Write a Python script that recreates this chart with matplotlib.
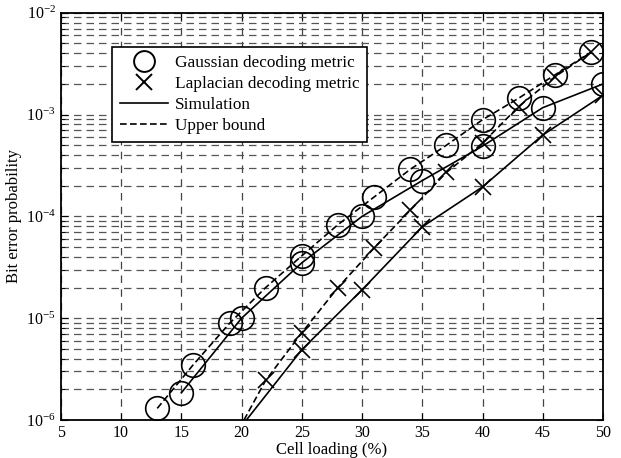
import numpy as np
import matplotlib.pyplot as plt
from matplotlib.lines import Line2D

plt.rcParams['font.family'] = 'Liberation Serif'
plt.rcParams['mathtext.fontset'] = 'custom'
plt.rcParams['mathtext.rm'] = 'Liberation Serif'

# Gaussian decoding metric
gauss_ub_x = [13, 16, 19, 22, 25, 28, 31, 34, 37, 40, 43, 46, 49]
gauss_ub = [1.3e-6, 3.5e-6, 8.9e-6, 2.0e-5, 4.1e-5, 8.3e-5, 1.55e-4,
            2.9e-4, 5.0e-4, 8.9e-4, 1.45e-3, 2.45e-3, 4.1e-3]
gauss_sim_x = [15, 20, 25, 30, 35, 40, 45, 50]
gauss_sim = [1.85e-6, 1.0e-5, 3.5e-5, 1.0e-4, 2.25e-4, 4.9e-4, 1.17e-3, 2.0e-3]

# Laplacian decoding metric
lap_ub_x = [19, 22, 25, 28, 31, 34, 37, 40, 43, 46, 49]
lap_ub = [5.5e-7, 2.45e-6, 7.2e-6, 2.0e-5, 4.9e-5, 1.15e-4, 2.7e-4,
          5.25e-4, 1.2e-3, 2.35e-3, 4.1e-3]
lap_sim_x = [20, 25, 30, 35, 40, 45, 50]
lap_sim = [8.7e-7, 4.9e-6, 1.9e-5, 7.9e-5, 1.95e-4, 6.3e-4, 1.55e-3]

fig = plt.figure(figsize=(6.21, 4.58), dpi=100)
ax = fig.add_axes([0.098, 0.083, 0.873, 0.889])

def visible(y):
    # only draw markers for points inside the y range
    return [i for i, v in enumerate(y) if v >= 1e-6]

ax.plot(gauss_ub_x, gauss_ub, 'k--', lw=1.2, marker='o', ms=17, mfc='none', mew=1.2,
        markevery=visible(gauss_ub), dashes=(4, 2))
ax.plot(gauss_sim_x, gauss_sim, 'k-', lw=1.2, marker='o', ms=17, mfc='none', mew=1.2,
        markevery=visible(gauss_sim))
ax.plot(lap_ub_x, lap_ub, 'k--', lw=1.2, marker='x', ms=11, mew=1.2,
        markevery=visible(lap_ub), dashes=(4, 2))
ax.plot(lap_sim_x, lap_sim, 'k-', lw=1.2, marker='x', ms=11, mew=1.2,
        markevery=visible(lap_sim))

ax.set_yscale('log')
ax.set_xlim(5, 50)
ax.set_ylim(1e-6, 1e-2)
ax.set_xticks(np.arange(5, 51, 5))

ax.grid(True, which='major', axis='x', color='#444444', ls=(0, (6, 5)), lw=0.9)
ax.grid(True, which='both', axis='y', color='#555555', ls=(0, (6, 4)), lw=0.9)
ax.tick_params(which='both', direction='in', top=True, right=True, labelsize=11.5)
ax.tick_params(which='major', length=5)
ax.tick_params(which='minor', length=3)
for s in ax.spines.values():
    s.set_linewidth(1.3)

ax.set_xlabel('Cell loading (%)', fontsize=12, labelpad=1)
ax.set_ylabel('Bit error probability', fontsize=12, labelpad=3)

handles = [
    Line2D([], [], color='k', ls='none', marker='o', ms=15, mfc='none', mew=1.4),
    Line2D([], [], color='k', ls='none', marker='x', ms=11, mew=1.4),
    Line2D([], [], color='k', ls='-', lw=1.2),
    Line2D([], [], color='k', ls='--', lw=1.2, dashes=(4, 2)),
]
labels = ['Gaussian decoding metric', 'Laplacian decoding metric',
          'Simulation', 'Upper bound']
leg = ax.legend(handles, labels, loc='upper left', bbox_to_anchor=(0.094, 0.916),
                borderaxespad=0, fancybox=False, framealpha=1, edgecolor='k',
                fontsize=12.4, handlelength=2.8, handletextpad=0.4,
                labelspacing=0.3, borderpad=0.45)
leg.get_frame().set_linewidth(1.2)

plt.savefig('out.png')
